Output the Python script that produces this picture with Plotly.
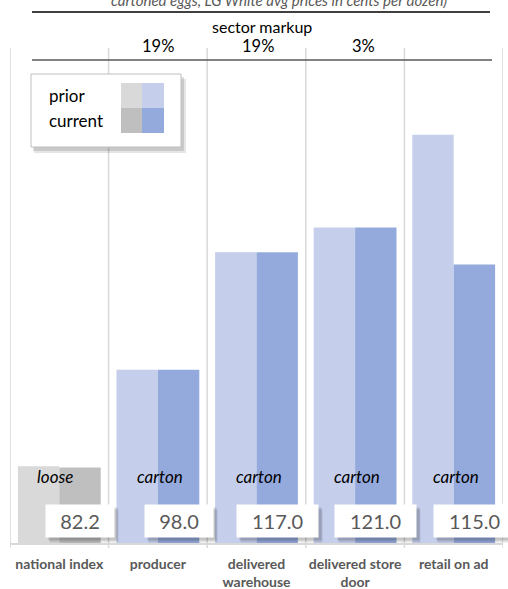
import plotly.graph_objects as go

categories = ["national index", "producer", "delivered<br>warehouse", "delivered store<br>door", "retail on ad"]
prior_values = [82.4, 98.0, 117.0, 121.0, 136.0]
current_values = [82.2, 98.0, 117.0, 121.0, 115.0]
pack_labels = ["loose", "carton", "carton", "carton", "carton"]
markup_labels = ["", "19%", "19%", "3%", ""]
title_text = "cartoned eggs, LG White avg prices in cents per dozen)"

prior_colors = ["#D9D9D9", "#C5CEEB", "#C5CEEB", "#C5CEEB", "#C5CEEB"]
current_colors = ["#BFBFBF", "#95AADC", "#95AADC", "#95AADC", "#95AADC"]

W, H = 508, 589
L, R, T, B = 10, 5, 48, 46
PW, PH = W - L - R, H - T - B
FONT = "Lato, 'Open Sans', sans-serif"


def px(x):
    return (x - L) / PW


def py(y):
    return (H - B - y) / PH


xs = list(range(len(categories)))

fig = go.Figure()
fig.add_trace(go.Bar(x=xs, y=prior_values, name="prior", marker=dict(color=prior_colors, line=dict(width=0)),
                     showlegend=False, hoverinfo="skip"))
fig.add_trace(go.Bar(x=xs, y=current_values, name="current", marker=dict(color=current_colors, line=dict(width=0)),
                     showlegend=False, hoverinfo="skip"))

shapes = []
# category separators
for i in range(len(categories) + 1):
    shapes.append(dict(type="line", xref="x", yref="paper", x0=i - 0.5, x1=i - 0.5, y0=-5 / PH, y1=1,
                       line=dict(color="#D9D9D9", width=1.5), layer="below"))
# top rules
shapes.append(dict(type="line", xref="paper", yref="paper", x0=px(32), x1=px(490), y0=py(12), y1=py(12),
                   line=dict(color="#000000", width=1.5)))
shapes.append(dict(type="line", xref="paper", yref="paper", x0=px(32), x1=px(492), y0=py(60), y1=py(60),
                   line=dict(color="#595959", width=1.5)))
# legend box with shadow
shapes.append(dict(type="rect", xref="paper", yref="paper", x0=px(34), x1=px(186), y0=py(153), y1=py(79),
                   fillcolor="rgba(0,0,0,0.10)", line=dict(width=0)))
shapes.append(dict(type="rect", xref="paper", yref="paper", x0=px(33), x1=px(184), y0=py(151), y1=py(77),
                   fillcolor="rgba(0,0,0,0.12)", line=dict(width=0)))
shapes.append(dict(type="rect", xref="paper", yref="paper", x0=px(31), x1=px(181), y0=py(147), y1=py(74),
                   fillcolor="#FFFFFF", line=dict(color="#BFBFBF", width=1)))
sw = [(121, 142, 83, 108, prior_colors[0]), (142, 164, 83, 108, prior_colors[1]),
      (121, 142, 108, 133, current_colors[0]), (142, 164, 108, 133, current_colors[1])]
for x0, x1, y0, y1, c in sw:
    shapes.append(dict(type="rect", xref="paper", yref="paper", x0=px(x0), x1=px(x1), y0=py(y1), y1=py(y0),
                       fillcolor=c, line=dict(width=0)))

annotations = []
# title (cut off at top, as in the original)
annotations.append(dict(text="<i>" + title_text + "</i>", xref="paper", yref="paper", x=px(279), y=py(0),
                        xanchor="center", yanchor="middle", showarrow=False,
                        font=dict(family=FONT, size=15, color="#595959")))
annotations.append(dict(text="sector markup", xref="paper", yref="paper", x=px(262), y=py(26.5),
                        xanchor="center", yanchor="middle", showarrow=False,
                        font=dict(family=FONT, size=16, color="#000000")))
markup_x = [0, 158, 258, 363, 0]
for i, m in enumerate(markup_labels):
    if m:
        annotations.append(dict(text=m, xref="paper", yref="paper", x=px(markup_x[i]), y=py(45.5),
                                xanchor="center", yanchor="middle", showarrow=False,
                                font=dict(family=FONT, size=16.5, color="#000000")))
# legend texts
annotations.append(dict(text="prior", xref="paper", yref="paper", x=px(47), y=py(96), xanchor="left",
                        yanchor="middle", showarrow=False, font=dict(family=FONT, size=17, color="#000000")))
annotations.append(dict(text="current", xref="paper", yref="paper", x=px(47), y=py(121), xanchor="left",
                        yanchor="middle", showarrow=False, font=dict(family=FONT, size=17, color="#000000")))

# pack labels
for i, t in enumerate(pack_labels):
    annotations.append(dict(text="<i>" + t + "</i>", x=i, y=80.7, xref="x", yref="y", showarrow=False,
                            xshift=(-4 if t == "loose" else 2), xanchor="center", yanchor="middle",
                            font=dict(family=FONT, size=17, color="#000000")))

# value boxes (shadow + box)
for i, v in enumerate(current_values):
    txt = f"{v:.1f}"
    w = 68 if len(txt) <= 4 else 81
    for dx, dy, a in [(4, -5, 0.10), (3, -3, 0.14)]:
        annotations.append(dict(text=" ", x=i + 0.21, y=73.56, xref="x", yref="y", showarrow=False,
                                xshift=dx, yshift=dy, width=w, height=32, borderpad=0,
                                bgcolor=f"rgba(0,0,0,{a})", font=dict(family=FONT, size=20)))
    annotations.append(dict(text=txt, x=i + 0.21, y=73.56, xref="x", yref="y", showarrow=False,
                            width=w, height=32, borderpad=0, bgcolor="#FFFFFF", align="center",
                            font=dict(family=FONT, size=20, color="#595959")))

fig.update_layout(
    width=W, height=H,
    margin=dict(l=L, r=R, t=T, b=B, pad=0, autoexpand=False),
    paper_bgcolor="#FFFFFF", plot_bgcolor="#FFFFFF",
    barmode="group", bargap=0.16, bargroupgap=0,
    shapes=shapes, annotations=annotations,
    xaxis=dict(range=[-0.5, 4.5], tickmode="array", tickvals=xs, ticktext=["<b>" + c + "</b>" for c in categories],
               showgrid=False, zeroline=False, showline=True, linecolor="#D9D9D9", linewidth=1.5,
               automargin=False,
               ticks="", ticklabelstandoff=7, tickfont=dict(family=FONT, size=14, color="#595959")),
    yaxis=dict(range=[70, 150], visible=False, fixedrange=True, automargin=False),
    font=dict(family=FONT),
)

fig.write_html("out.html")
